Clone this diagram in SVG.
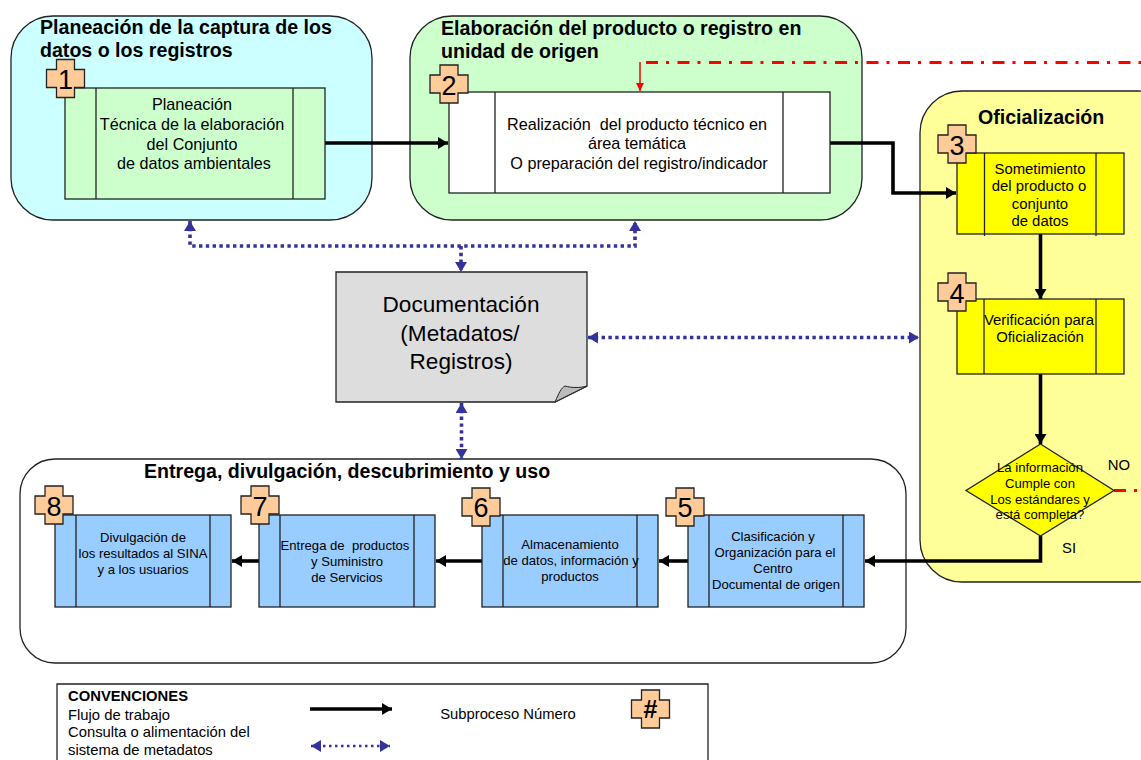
<svg xmlns="http://www.w3.org/2000/svg" xmlns:xlink="http://www.w3.org/1999/xlink" width="1141" height="760" viewBox="0 0 1141 760">
<style>
text{font-family:"Liberation Sans",Arial,sans-serif;fill:#000;text-anchor:middle;white-space:pre}
.h{font-weight:bold;font-size:19.6px;text-anchor:start}
.t14{font-size:16.2px}
.t13{font-size:14.9px}
.t11{font-size:13.1px}
.num{font-size:27px}
.box{stroke:#222;stroke-width:1.3}
.line{stroke:#222;stroke-width:1.3;fill:none}
.flow{fill:none;stroke:#000;stroke-width:3.6}
.meta{fill:none;stroke:#333399;stroke-width:3.6;stroke-dasharray:3.4 3.4}
.cross{fill:#ffcc99;stroke:#222;stroke-width:1.3}
.grp{stroke:#222;stroke-width:1.3}
.l{font-size:14.8px;text-anchor:start}
.red{fill:none;stroke:#ff0000;stroke-width:3;stroke-dasharray:12 8 3 8.5}
</style>
<defs>
<marker id="a" markerUnits="userSpaceOnUse" markerWidth="11" markerHeight="12" refX="10" refY="6" orient="auto"><path d="M0 0L10 6L0 12z" fill="#000"/></marker>
<marker id="m" markerUnits="userSpaceOnUse" markerWidth="11" markerHeight="12" refX="10" refY="6" orient="auto-start-reverse"><path d="M0 0L10 6L0 12z" fill="#333399"/></marker>
<marker id="r" markerUnits="userSpaceOnUse" markerWidth="9" markerHeight="10" refX="8" refY="4" orient="auto"><path d="M0 0L8 4L0 8z" fill="#ff0000"/></marker>
<path id="c" d="M-9-19H9V-9H19V9H9V19H-9V9H-19V-9H-9z"/>
</defs>

<g id="grupo-planeacion">
<rect class="grp" x="11" y="16" width="361" height="204" rx="42" fill="#ccffff"/>
<text class="h" x="40" y="34">Planeación de la captura de los</text>
<text class="h" x="40" y="57">datos o los registros</text>
</g>
<g id="grupo-elaboracion">
<rect class="grp" x="410" y="16" width="452" height="204" rx="42" fill="#ccffcc"/>
<text class="h" x="441" y="35">Elaboración del producto o registro en</text>
<text class="h" x="441" y="58">unidad de origen</text>
</g>
<g id="grupo-oficializacion">
<rect class="grp" x="920" y="91" width="260" height="491" rx="42" fill="#ffff99"/>
<text class="h" x="978" y="124">Oficialización</text>
</g>
<g id="grupo-entrega">
<rect class="grp" x="20" y="459" width="886" height="204" rx="35" fill="#fff"/>
<text class="h" x="144" y="478">Entrega, divulgación, descubrimiento y uso</text>
</g>

<g id="conectores">
<path class="flow" d="M325 143H448" marker-end="url(#a)"/>
<path class="flow" d="M830 143H893V193H956" marker-end="url(#a)"/>
<path class="flow" d="M1040.500 234V299" marker-end="url(#a)"/>
<path class="flow" d="M1040.500 374V444" marker-end="url(#a)"/>
<path class="flow" d="M1040.500 536V561H865" marker-end="url(#a)"/>
<path class="flow" d="M688 561H659" marker-end="url(#a)"/>
<path class="flow" d="M482 561H436" marker-end="url(#a)"/>
<path class="flow" d="M259 561H232" marker-end="url(#a)"/>
<path d="M640 62V91" fill="none" stroke="#ff0000" stroke-width="1.5" marker-end="url(#r)"/>
<path class="red" d="M640 62.500H1141" stroke-dashoffset="25.500"/>
<path class="red" d="M1114 490.500H1141"/>
<path class="meta" d="M190 221V246H635V221" marker-start="url(#m)" marker-end="url(#m)"/>
<path class="meta" d="M461 246V272" marker-end="url(#m)"/>
<path class="meta" d="M461.500 403V459" marker-start="url(#m)" marker-end="url(#m)"/>
<path class="meta" d="M588 337.500H919" marker-start="url(#m)" marker-end="url(#m)"/>
</g>

<g id="nodo-1">
<rect class="box" x="65" y="88" width="260" height="111" fill="#ccffcc"/>
<path class="line" d="M96 88V199M293 88V199"/>
<use xlink:href="#c" href="#c" class="cross" x="65.500" y="78.500"/>
<text class="num" x="65.500" y="89">1</text>
<text class="t14" x="192" y="110">Planeación</text>
<text class="t14" x="192" y="130">Técnica de la elaboración</text>
<text class="t14" x="192" y="150">del Conjunto</text>
<text class="t14" x="194" y="169">de datos ambientales</text>
</g>
<g id="nodo-2">
<rect class="box" x="449" y="92" width="381" height="101" fill="#fff"/>
<path class="line" d="M495 92V193M783 92V193"/>
<use xlink:href="#c" href="#c" class="cross" x="449" y="84"/>
<text class="num" x="449" y="94.500">2</text>
<text class="t14" x="637" y="130">Realización  del producto técnico en</text>
<text class="t14" x="637" y="149">área temática</text>
<text class="t14" x="639" y="169">O preparación del registro/indicador</text>
</g>
<g id="nodo-3">
<rect class="box" x="957" y="153" width="167" height="81" fill="#ffff00"/>
<path class="line" d="M984.500 153V236M1096 153V236"/>
<use xlink:href="#c" href="#c" class="cross" x="957" y="144"/>
<text class="num" x="957" y="154.500">3</text>
<text class="t13" x="1040" y="174">Sometimiento</text>
<text class="t13" x="1039" y="191">del producto o</text>
<text class="t13" x="1040" y="209">conjunto</text>
<text class="t13" x="1040" y="226">de datos</text>
</g>
<g id="nodo-4">
<rect class="box" x="957" y="299" width="167" height="75" fill="#ffff00"/>
<path class="line" d="M984 299V374M1096 299V374"/>
<use xlink:href="#c" href="#c" class="cross" x="957" y="292"/>
<text class="num" x="957" y="302.500">4</text>
<text class="t13" x="1039" y="325">Verificación para</text>
<text class="t13" x="1040" y="342">Oficialización</text>
</g>
<g id="decision">
<polygon points="1040.500,444 1114,490.500 1040.500,536 966,490.500" fill="#ffff00" stroke="#222" stroke-width="1.300"/>
<text class="t11" x="1040" y="472">La información</text>
<text class="t11" x="1040" y="488">Cumple con</text>
<text class="t11" x="1040" y="504">Los estándares y</text>
<text class="t11" x="1040" y="519">está completa?</text>
<text class="t13" x="1119" y="470">NO</text>
<text class="t13" x="1069" y="553">SI</text>
</g>
<g id="nodo-5">
<rect class="box" x="688" y="515" width="176" height="92" fill="#99ccff"/>
<path class="line" d="M709 515V607M843 515V607"/>
<use xlink:href="#c" href="#c" class="cross" x="685" y="507"/>
<text class="num" x="685" y="517">5</text>
<text class="t11" x="773" y="541">Clasificación y</text>
<text class="t11" x="775" y="557">Organización para el</text>
<text class="t11" x="773" y="573">Centro</text>
<text class="t11" x="776" y="589">Documental de origen</text>
</g>
<g id="nodo-6">
<rect class="box" x="482" y="515" width="176" height="92" fill="#99ccff"/>
<path class="line" d="M503 515V607M637 515V607"/>
<use xlink:href="#c" href="#c" class="cross" x="481" y="507"/>
<text class="num" x="481" y="517">6</text>
<text class="t11" x="570" y="549">Almacenamiento</text>
<text class="t11" x="571" y="565">de datos, información y</text>
<text class="t11" x="570" y="581">productos</text>
</g>
<g id="nodo-7">
<rect class="box" x="259" y="515" width="176" height="92" fill="#99ccff"/>
<path class="line" d="M280 515V607M414 515V607"/>
<use xlink:href="#c" href="#c" class="cross" x="260" y="505"/>
<text class="num" x="260" y="516">7</text>
<text class="t11" x="345" y="550">Entrega de  productos</text>
<text class="t11" x="347" y="566">y Suministro</text>
<text class="t11" x="347" y="582">de Servicios</text>
</g>
<g id="nodo-8">
<rect class="box" x="55" y="515" width="176" height="92" fill="#99ccff"/>
<path class="line" d="M76 515V607M210 515V607"/>
<use xlink:href="#c" href="#c" class="cross" x="54" y="505"/>
<text class="num" x="54" y="516">8</text>
<text class="t11" x="143" y="542">Divulgación de</text>
<text class="t11" x="143" y="558">los resultados al SINA</text>
<text class="t11" x="143" y="574">y a los usuarios</text>
</g>
<g id="documentacion">
<path d="M336 272H587V386L555 402H336z" fill="#dddddd" stroke="#222" stroke-width="1.300"/>
<path d="M555 402C559 393 561 388 565 386C572 388 580 388 587 386z" fill="#bbbbbb" stroke="#222" stroke-width="1"/>
<text x="461" y="312" font-size="22.600">Documentación</text>
<text x="460" y="341" font-size="22.600">(Metadatos/</text>
<text x="461" y="369" font-size="22.600">Registros)</text>
</g>
<g id="convenciones">
<path d="M57 760V684H708V760" fill="#fff" stroke="#222" stroke-width="1.300"/>
<text class="l" x="68" y="701" font-weight="bold">CONVENCIONES</text>
<text class="l" x="68" y="720">Flujo de trabajo</text>
<text class="l" x="68" y="737">Consulta o alimentación del</text>
<text class="l" x="68" y="755">sistema de metadatos</text>
<path class="flow" d="M310 709H392" marker-end="url(#a)"/>
<path d="M311 746H390" fill="none" stroke="#333399" stroke-width="2.500" stroke-dasharray="2.500 3.500" marker-start="url(#m)" marker-end="url(#m)"/>
<text x="508" y="719" font-size="14.800">Subproceso Número</text>
<use xlink:href="#c" href="#c" class="cross" x="650.500" y="709"/>
<text x="650.500" y="718" font-size="25" font-weight="bold">#</text>
</g>
</svg>
